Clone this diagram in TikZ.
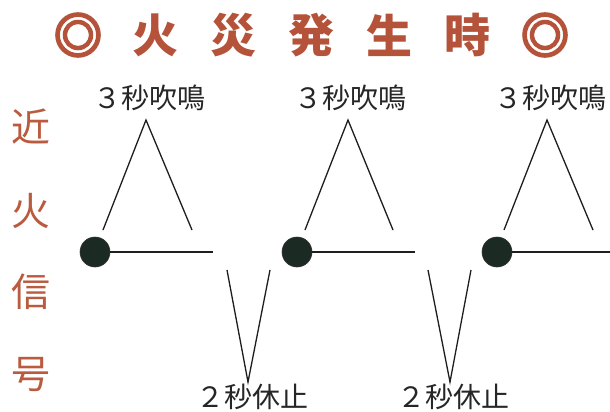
\documentclass[tikz,border=0pt]{standalone}
\usepackage{fontspec}
\newfontfamily\jpfont{Noto Sans CJK JP}
\newfontfamily\ringfont{Noto Sans CJK JP}[FakeBold=5]
\definecolor{titlec}{HTML}{B5533A}
\definecolor{sidec}{HTML}{BA5A3F}
\definecolor{dotc}{HTML}{1B2A22}
\definecolor{linec}{HTML}{1E1E1E}
\tikzset{
  dot/.style={circle, fill=dotc, draw=black!80, line width=0.6pt, minimum size=30pt, inner sep=0pt},
  sig/.style={draw=linec, line width=1.3pt, line join=miter},
  lbl/.style={font=\jpfont\fontsize{28}{30}\selectfont, text=black!85, inner sep=0pt, anchor=center},
  ttl/.style={font=\jpfont\bfseries\fontsize{46}{48}\selectfont, text=titlec, inner sep=0pt, anchor=center},
  ring/.style={font=\ringfont\bfseries\fontsize{48}{50}\selectfont, text=titlec, inner sep=0pt, anchor=center},
  side/.style={font=\jpfont\fontsize{39}{40}\selectfont, text=sidec, inner sep=0pt, anchor=center}
}
\begin{document}
\begin{tikzpicture}[x=1pt, y=-1pt]
\useasboundingbox[fill=white] (0,0) rectangle (610,412);
% title
\node[ring] (t1) at (78,35) {◎};
\node[ttl] (t2) at (155,35) {火};
\node[ttl] (t3) at (233,35) {災};
\node[ttl] (t4) at (311,35) {発};
\node[ttl] (t5) at (389,35) {生};
\node[ttl] (t6) at (467,35) {時};
\node[ring] (t7) at (545,35) {◎};
% side text
\node[side] (k1) at (31,127) {近};
\node[side] (k2) at (31,211) {火};
\node[side] (k3) at (31,292) {信};
\node[side] (k4) at (31,375) {号};
% dots
\node[dot] (d1) at (95,252) {};
\node[dot] (d2) at (297,252) {};
\node[dot] (d3) at (497,252) {};
% horizontal ends
\coordinate (h1) at (213,252);
\coordinate (h2) at (415,252);
\coordinate (h3) at (610,252);
% peaks
\coordinate (a1L) at (103,230); \coordinate (a1T) at (146,120); \coordinate (a1R) at (192,230);
\coordinate (a2L) at (305,230); \coordinate (a2T) at (348,120); \coordinate (a2R) at (393,230);
\coordinate (a3L) at (504,230); \coordinate (a3T) at (547,120); \coordinate (a3R) at (593,230);
% valleys
\coordinate (v1L) at (227,270); \coordinate (v1B) at (248,382); \coordinate (v1R) at (270,270);
\coordinate (v2L) at (428,270); \coordinate (v2B) at (450,382); \coordinate (v2R) at (471,270);
% lines
\draw[sig] (d1) -- (h1);
\draw[sig] (d2) -- (h2);
\draw[sig] (d3) -- (h3);
\draw[sig] (a1L) -- (a1T) -- (a1R);
\draw[sig] (a2L) -- (a2T) -- (a2R);
\draw[sig] (a3L) -- (a3T) -- (a3R);
\draw[sig] (v1L) -- (v1B) -- (v1R);
\draw[sig] (v2L) -- (v2B) -- (v2R);
% labels
\node[lbl] (s1) at (149,98) {３秒吹鳴};
\node[lbl] (s2) at (350,98) {３秒吹鳴};
\node[lbl] (s3) at (550,98) {３秒吹鳴};
\node[lbl] (p1) at (252,397) {２秒休止};
\node[lbl] (p2) at (453,397) {２秒休止};
\end{tikzpicture}
\end{document}
